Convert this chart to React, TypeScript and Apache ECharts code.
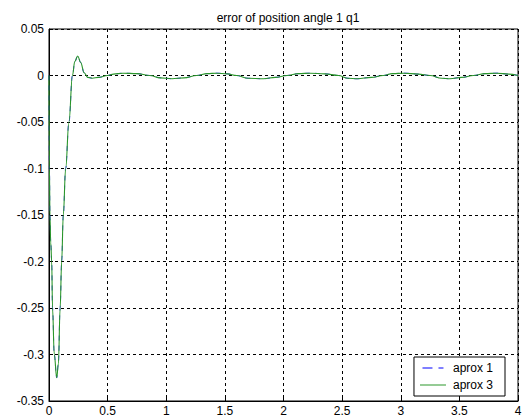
import React, { useEffect, useRef } from "react";
import * as echarts from "echarts";

const titleText = "error of position angle 1 q1";
const seriesNames = ["aprox 1", "aprox 3"];
const timeValues = [
  0, 0.004, 0.008, 0.015, 0.023, 0.03, 0.045, 0.066, 0.08, 0.095, 0.108, 0.122, 0.142, 0.17, 0.2,
  0.22, 0.245, 0.27, 0.3, 0.33, 0.37, 0.42, 0.5, 0.55, 0.63, 0.75, 0.86, 0.95, 1.05, 1.15, 1.26,
  1.35, 1.43, 1.52, 1.6, 1.7, 1.83, 1.93, 2.03, 2.13, 2.23, 2.35, 2.47, 2.55, 2.63, 2.75, 2.85,
  2.93, 3.03, 3.15, 3.25, 3.35, 3.42, 3.52, 3.62, 3.72, 3.82, 3.92, 4.0,
];
const errorValues = [
  0, -0.1, -0.15, -0.18, -0.2, -0.25, -0.3, -0.325, -0.31, -0.25, -0.2, -0.15, -0.1, -0.05, 0,
  0.015, 0.021, 0.014, 0.003, -0.002, -0.003, -0.002, 0.0, 0.0015, 0.0025, 0.002, 0, -0.0025,
  -0.0035, -0.0025, 0, 0.002, 0.0025, 0.0018, 0, -0.003, -0.0035, -0.002, 0, 0.002, 0.0025,
  0.0018, 0, -0.003, -0.0035, -0.002, 0, 0.002, 0.0025, 0.0015, 0, -0.003, -0.0035, -0.002, 0,
  0.002, 0.0025, 0.0015, 0,
];
const xTicks = { min: 0, max: 4, interval: 0.5 };
const yTicks = { min: -0.35, max: 0.05, interval: 0.05 };

export default function App() {
  const ref = useRef<HTMLDivElement>(null);
  useEffect(() => {
    document.body.style.margin = "0";
    if (!ref.current) return;
    const chart = echarts.init(ref.current, null, { renderer: "svg" });
    const data = timeValues.map((t, i) => [t, errorValues[i]]);
    const font = "'Liberation Sans', Arial, sans-serif";
    const gridLine = { show: true, lineStyle: { color: "#000", type: [3, 3] as any, width: 1 } };
    const blue = "#0000ff";
    const green = "#2a962a";
    chart.setOption({
      animation: false,
      backgroundColor: "#fff",
      title: {
        text: titleText,
        left: 283,
        textAlign: "center",
        top: 7,
        textStyle: { fontFamily: font, fontSize: 12, fontWeight: "normal", color: "#000" },
      },
      grid: {
        left: 49,
        top: 29,
        right: 8,
        bottom: 15,
        show: true,
        borderColor: "#000",
        borderWidth: 1,
        backgroundColor: "#fff",
      },
      xAxis: {
        type: "value",
        min: xTicks.min,
        max: xTicks.max,
        interval: xTicks.interval,
        axisLine: { show: true, onZero: false, lineStyle: { color: "#000" } },
        axisTick: { show: true, inside: true, length: 4, lineStyle: { color: "#000" } },
        splitLine: gridLine,
        axisLabel: {
          color: "#000",
          fontFamily: font,
          fontSize: 12,
          margin: 4,
          formatter: (v: number) => String(parseFloat(v.toFixed(2))),
        },
      },
      yAxis: {
        type: "value",
        min: yTicks.min,
        max: yTicks.max,
        interval: yTicks.interval,
        axisLine: { show: true, onZero: false, lineStyle: { color: "#000" } },
        axisTick: { show: true, inside: true, length: 4, lineStyle: { color: "#000" } },
        splitLine: gridLine,
        axisLabel: {
          color: "#000",
          fontFamily: font,
          fontSize: 12,
          margin: 5,
          formatter: (v: number) => String(parseFloat(v.toFixed(2))),
        },
      },
      legend: {
        orient: "vertical",
        right: 21,
        bottom: 21,
        backgroundColor: "#fff",
        borderColor: "#000",
        borderWidth: 1,
        borderRadius: 0,
        padding: [5, 12, 5, 6],
        itemGap: 5,
        itemWidth: 26,
        itemHeight: 1,
        textStyle: { fontFamily: font, fontSize: 12, color: "#000", padding: [0, 0, 0, 2] },
        data: [
          {
            name: seriesNames[0],
            icon: "path://M0,0h10v1h-10zM16,0h5v1h-5z",
            itemStyle: { color: blue, borderWidth: 0 },
          },
          {
            name: seriesNames[1],
            icon: "path://M0,0h26v1h-26z",
            itemStyle: { color: green, borderWidth: 0 },
          },
        ],
      },
      series: [
        {
          name: seriesNames[0],
          type: "line",
          data,
          symbol: "none",
          smooth: 0.4,
          smoothMonotone: "x",
          lineStyle: { color: blue, width: 0.8, type: [5, 5] },
          itemStyle: { color: blue },
        },
        {
          name: seriesNames[1],
          type: "line",
          data,
          symbol: "none",
          smooth: 0.4,
          smoothMonotone: "x",
          lineStyle: { color: green, width: 1.1 },
          itemStyle: { color: green },
        },
      ],
    });
    return () => chart.dispose();
  }, []);
  return <div ref={ref} style={{ width: 526, height: 417 }} />;
}
